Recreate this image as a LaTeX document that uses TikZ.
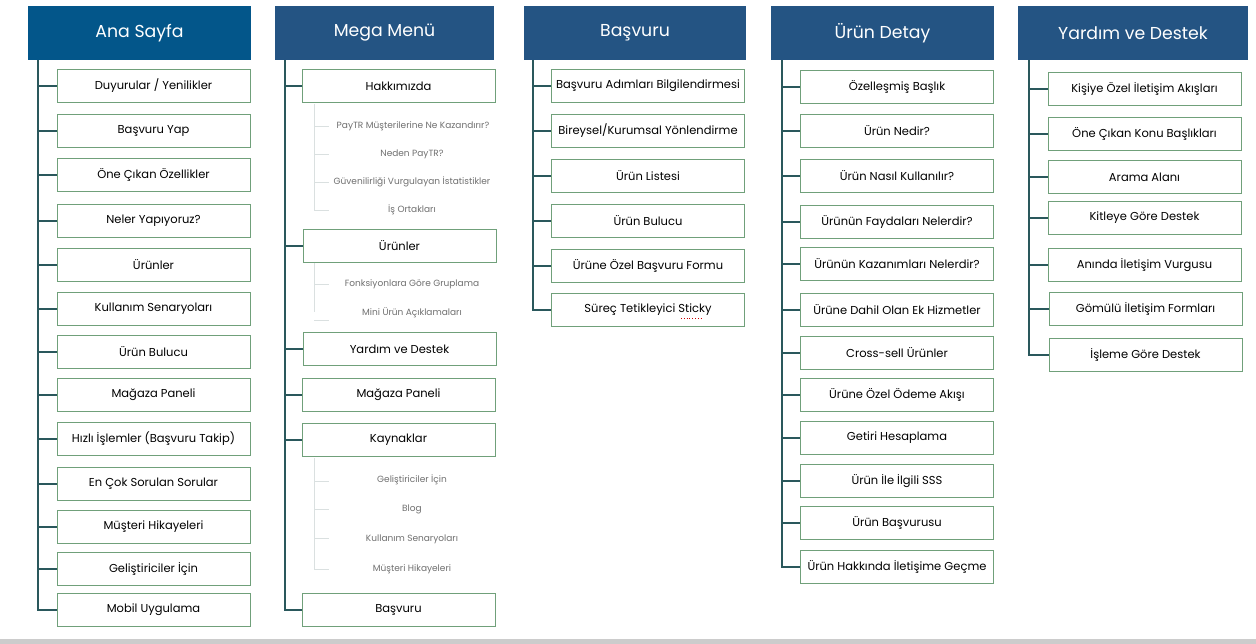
\documentclass[tikz,border=0pt]{standalone}
\usepackage{fontspec}
\setmainfont{Poppins}
\usetikzlibrary{positioning}

\definecolor{hdrblue}{RGB}{3,86,138}
\definecolor{hdrnavy}{RGB}{36,84,131}
\definecolor{trunkteal}{RGB}{42,88,92}
\definecolor{boxgreen}{RGB}{112,160,122}
\definecolor{subline}{RGB}{218,224,224}
\definecolor{subtext}{RGB}{112,112,112}
\definecolor{bandgray}{RGB}{204,204,204}

\tikzset{
  header/.style={fill=hdrnavy, text=white, minimum height=54pt, inner sep=0pt,
                 font=\fontsize{17.3}{20}\selectfont},
  item/.style={draw=boxgreen, fill=white, minimum width=193pt, minimum height=33pt,
               inner sep=0pt, font=\fontsize{11.5}{13}\selectfont},
  subitem/.style={text=subtext, inner sep=0pt, font=\fontsize{9}{11}\selectfont},
  trunk/.style={draw=trunkteal, line width=1.1pt},
  twig/.style={draw=subline, line width=0.9pt}
}

\begin{document}
\begin{tikzpicture}[x=1pt, y=-1pt]
  \useasboundingbox (0,0) rectangle (1256,644);
  \fill[white] (0,0) rectangle (1256,644);
  \fill[bandgray] (0,639) rectangle (1256,644);

  % Ana Sayfa
  \node[header, fill=hdrblue, minimum width=223pt] (h1) at (139.5,33) {Ana Sayfa};
  \coordinate (t1) at (38,60);
  \node[item] (a1)  at (153.5,86)  {Duyurular / Yenilikler};
  \node[item] (a2)  at (153.5,131) {Başvuru Yap};
  \node[item] (a3)  at (153.5,175) {Öne Çıkan Özellikler};
  \node[item] (a4)  at (153.5,221) {Neler Yapıyoruz?};
  \node[item] (a5)  at (153.5,265) {Ürünler};
  \node[item] (a6)  at (153.5,309) {Kullanım Senaryoları};
  \node[item] (a7)  at (153.5,352) {Ürün Bulucu};
  \node[item] (a8)  at (153.5,395) {Mağaza Paneli};
  \node[item] (a9)  at (153.5,439) {Hızlı İşlemler (Başvuru Takip)};
  \node[item] (a10) at (153.5,484) {En Çok Sorulan Sorular};
  \node[item] (a11) at (153.5,527) {Müşteri Hikayeleri};
  \node[item] (a12) at (153.5,569) {Geliştiriciler İçin};
  \node[item] (a13) at (153.5,610) {Mobil Uygulama};
  \draw[trunk] (t1) |- (a13.west);
  \foreach \n in {1,...,12} \draw[trunk] (t1 |- a\n.west) -- (a\n.west);

  % Mega Menu
  \node[header, minimum width=219pt] (h2) at (384.5,33) {Mega Menü};
  \coordinate (t2) at (285,60);
  \node[item] (b1) at (398.5,86)  {Hakkımızda};
  \node[subitem] (b1a) at (413,126) {PayTR Müşterilerine Ne Kazandırır?};
  \node[subitem] (b1b) at (412,154) {Neden PayTR?};
  \node[subitem] (b1c) at (412,182) {Güvenilirliği Vurgulayan İstatistikler};
  \node[subitem] (b1d) at (412,210) {İş Ortakları};
  \coordinate (s1) at (314,104);
  \draw[twig] (s1) -- (314,211);
  \foreach \y in {126,154,182,210} \draw[twig] (314,\y) -- (329,\y);
  \node[item] (b2) at (399.5,246) {Ürünler};
  \node[subitem] (b2a) at (412,284) {Fonksiyonlara Göre Gruplama};
  \node[subitem] (b2b) at (412,313) {Mini Ürün Açıklamaları};
  \draw[twig] (314,263) -- (314,312);
  \foreach \y in {284,320} \draw[twig] (314,\y) -- (329,\y);
  \node[item] (b3) at (399.5,349) {Yardım ve Destek};
  \node[item] (b4) at (398.5,395) {Mağaza Paneli};
  \node[item] (b5) at (398.5,440) {Kaynaklar};
  \node[subitem] (b5a) at (412,480) {Geliştiriciler İçin};
  \node[subitem] (b5b) at (412,509) {Blog};
  \node[subitem] (b5c) at (412,539) {Kullanım Senaryoları};
  \node[subitem] (b5d) at (412,569) {Müşteri Hikayeleri};
  \draw[twig] (314,458) -- (314,569);
  \foreach \y in {481,509,538,569} \draw[twig] (314,\y) -- (329,\y);
  \node[item] (b6) at (398.5,610) {Başvuru};
  \draw[trunk] (t2) |- (b6.west);
  \foreach \n in {1,...,5} \draw[trunk] (t2 |- b\n.west) -- (b\n.west);

  % Basvuru
  \node[header, minimum width=222pt] (h3) at (635,33) {Başvuru};
  \coordinate (t3) at (533,60);
  \node[item] (c1) at (648,86)  {Başvuru Adımları Bilgilendirmesi};
  \node[item] (c2) at (648,131) {Bireysel/Kurumsal Yönlendirme};
  \node[item] (c3) at (648,176) {Ürün Listesi};
  \node[item] (c4) at (648,221) {Ürün Bulucu};
  \node[item] (c5) at (648,266) {Ürüne Özel Başvuru Formu};
  \node[item] (c6) at (648,310) {Süreç Tetikleyici Sticky};
  \draw[red!80!black, dotted, line width=0.8pt] ([xshift=33pt,yshift=-8pt]c6.center) -- ([xshift=54pt,yshift=-8pt]c6.center);
  \draw[trunk] (t3) |- (c6.west);
  \foreach \n in {1,...,5} \draw[trunk] (t3 |- c\n.west) -- (c\n.west);

  % Urun Detay
  \node[header, minimum width=223pt] (h4) at (882.5,33) {Ürün Detay};
  \coordinate (t4) at (782,60);
  \node[item] (d1)  at (897,87)  {Özelleşmiş Başlık};
  \node[item] (d2)  at (897,131) {Ürün Nedir?};
  \node[item] (d3)  at (897,176) {Ürün Nasıl Kullanılır?};
  \node[item] (d4)  at (897,222) {Ürünün Faydaları Nelerdir?};
  \node[item] (d5)  at (897,264) {Ürünün Kazanımları Nelerdir?};
  \node[item] (d6)  at (897,310) {Ürüne Dahil Olan Ek Hizmetler};
  \node[item] (d7)  at (897,353) {Cross-sell Ürünler};
  \node[item] (d8)  at (897,395) {Ürüne Özel Ödeme Akışı};
  \node[item] (d9)  at (897,438) {Getiri Hesaplama};
  \node[item] (d10) at (897,481) {Ürün İle İlgili SSS};
  \node[item] (d11) at (897,523) {Ürün Başvurusu};
  \node[item] (d12) at (897,567) {Ürün Hakkında İletişime Geçme};
  \draw[trunk] (t4) |- (d12.west);
  \foreach \n in {1,...,11} \draw[trunk] (t4 |- d\n.west) -- (d\n.west);

  % Yardim ve Destek
  \node[header, minimum width=230pt] (h5) at (1133,33) {Yardım ve Destek};
  \coordinate (t5) at (1029,60);
  \node[item] (e1) at (1144.5,89)  {Kişiye Özel İletişim Akışları};
  \node[item] (e2) at (1144.5,134) {Öne Çıkan Konu Başlıkları};
  \node[item] (e3) at (1144.5,177) {Arama Alanı};
  \node[item] (e4) at (1144.5,218) {Kitleye Göre Destek};
  \node[item] (e5) at (1144.5,265) {Anında İletişim Vurgusu};
  \node[item] (e6) at (1145.5,309) {Gömülü İletişim Formları};
  \node[item] (e7) at (1145.5,355) {İşleme Göre Destek};
  \draw[trunk] (t5) |- (e7.west);
  \foreach \n in {1,...,6} \draw[trunk] (t5 |- e\n.west) -- (e\n.west);
\end{tikzpicture}
\end{document}
